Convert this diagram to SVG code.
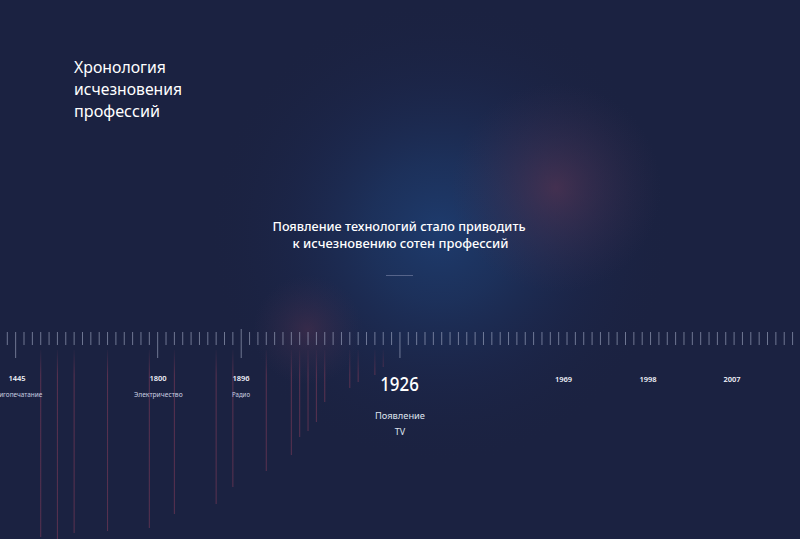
<svg xmlns="http://www.w3.org/2000/svg" width="800" height="539" viewBox="0 0 800 539">
<style>
text{font-family:"Noto Sans","Liberation Sans",sans-serif;fill:#ffffff}
.title{font-size:17px;font-weight:400}
.lead{font-size:13px;font-weight:500;text-anchor:middle}
.year{font-size:7.5px;font-weight:600;text-anchor:middle;fill:#f2f4fa}
.sub{font-size:6.5px;text-anchor:middle;fill:#c9cfe0}
.big{font-size:19px;font-weight:500;text-anchor:middle}
.ev{font-size:9px;text-anchor:middle;fill:#dfe3ee}
.tick{stroke:#c3cbe3;stroke-opacity:.5;stroke-width:1;fill:none}
.red{stroke:url(#redfade);stroke-width:1;fill:none}
</style>
<defs>
<radialGradient id="gBlue" cx="440" cy="232" r="235" gradientUnits="userSpaceOnUse">
<stop offset="0" stop-color="#1f4680" stop-opacity=".7"/>
<stop offset=".3" stop-color="#1e3f74" stop-opacity=".5"/>
<stop offset=".65" stop-color="#1d3060" stop-opacity=".2"/>
<stop offset="1" stop-color="#1b2241" stop-opacity="0"/>
</radialGradient>
<radialGradient id="gRed" cx="556" cy="188" r="105" gradientUnits="userSpaceOnUse">
<stop offset="0" stop-color="#5e3653" stop-opacity=".6"/>
<stop offset=".45" stop-color="#4a3352" stop-opacity=".35"/>
<stop offset="1" stop-color="#3a2f50" stop-opacity="0"/>
</radialGradient>
<radialGradient id="gRed2" cx="308" cy="330" r="55" gradientUnits="userSpaceOnUse">
<stop offset="0" stop-color="#52314e" stop-opacity=".5"/>
<stop offset="1" stop-color="#3a2f50" stop-opacity="0"/>
</radialGradient>
<linearGradient id="redfade" x1="0" y1="347" x2="0" y2="375" gradientUnits="userSpaceOnUse">
<stop offset="0" stop-color="#6e3654" stop-opacity="0"/>
<stop offset="1" stop-color="#6e3654" stop-opacity=".75"/>
</linearGradient>
</defs>

<g id="background">
<rect width="800" height="539" fill="#1b2241"/>
<rect width="800" height="539" fill="url(#gBlue)"/>
<rect width="800" height="539" fill="url(#gRed)"/>
<rect width="800" height="539" fill="url(#gRed2)"/>
</g>

<g id="title">
<text class="title" x="74" y="73" textLength="92" lengthAdjust="spacingAndGlyphs">Хронология</text>
<text class="title" x="74" y="95" textLength="108" lengthAdjust="spacingAndGlyphs">исчезновения</text>
<text class="title" x="74" y="117" textLength="86" lengthAdjust="spacingAndGlyphs">профессий</text>
</g>

<g id="lead">
<text class="lead" x="399" y="230.5" textLength="253" lengthAdjust="spacingAndGlyphs">Появление технологий стало приводить</text>
<text class="lead" x="400.5" y="247.5" textLength="216" lengthAdjust="spacingAndGlyphs">к исчезновению сотен профессий</text>
<line x1="386" y1="275.5" x2="413" y2="275.5" stroke="#56648a" stroke-width="1"/>
</g>

<g id="ruler">
<path class="tick" d="M7.3 332v13M24.01 332v13M32.36 332v13M40.72 332v13M49.07 332v13M57.42 332v13M65.78 332v13M74.13 332v13M82.49 332v13M90.84 332v13M99.19 332v13M107.55 332v13M115.9 332v13M124.26 332v13M132.61 332v13M140.96 332v13M149.32 332v13M166.03 332v13M174.38 332v13M182.73 332v13M191.09 332v13M199.44 332v13M207.8 332v13M216.15 332v13M224.5 332v13M232.86 332v13M249.57 332v13M257.92 332v13M266.27 332v13M274.63 332v13M282.98 332v13M291.34 332v13M299.69 332v13M308.04 332v13M316.4 332v13M324.75 332v13M333.11 332v13M341.46 332v13M349.81 332v13M358.17 332v13M366.52 332v13M374.88 332v13M383.23 332v13M391.58 332v13M408.29 332v13M416.65 332v13M425 332v13M433.35 332v13M441.71 332v13M450.06 332v13M458.42 332v13M466.77 332v13M475.12 332v13M483.48 332v13M491.83 332v13M500.19 332v13M508.54 332v13M516.89 332v13M525.25 332v13M533.6 332v13M541.96 332v13M550.31 332v13M558.66 332v13M567.02 332v13M575.37 332v13M583.73 332v13M592.08 332v13M600.43 332v13M608.79 332v13M617.14 332v13M625.5 332v13M633.85 332v13M642.2 332v13M650.56 332v13M658.91 332v13M667.27 332v13M675.62 332v13M683.97 332v13M692.33 332v13M700.68 332v13M709.04 332v13M717.39 332v13M725.74 332v13M734.1 332v13M742.45 332v13M750.81 332v13M759.16 332v13M767.51 332v13M775.87 332v13M784.22 332v13M792.58 332v13"/>
<path class="tick" d="M15.65 332v26M157.67 332v26M241.21 329v29M399.94 332v26"/>
</g>

<g id="fading-lines">
<path class="red" d="M40.72 350V537M57.42 350V539M74.13 350V533M107.55 350V531M149.32 350V528M174.38 350V514M216.15 350V504M232.86 350V487M266.27 350V471M291.34 350V455M299.69 350V437M308.04 350V431M316.4 350V422M324.75 350V402M349.81 350V388M358.17 350V382M374.88 350V375M383.23 350V367"/>
</g>

<g id="m1445">
<text class="year" x="17" y="381">1445</text>
<text class="sub" x="16.7" y="397" textLength="51" lengthAdjust="spacingAndGlyphs">Книгопечатание</text>
</g>
<g id="m1800">
<text class="year" x="158" y="381">1800</text>
<text class="sub" x="158.3" y="397" textLength="48.7" lengthAdjust="spacingAndGlyphs">Электричество</text>
</g>
<g id="m1896">
<text class="year" x="241" y="381">1896</text>
<text class="sub" x="241" y="397" textLength="18" lengthAdjust="spacingAndGlyphs">Радио</text>
</g>
<g id="m1926">
<text class="big" x="399.5" y="391" textLength="38.6" lengthAdjust="spacingAndGlyphs">1926</text>
<text class="ev" x="400" y="419" textLength="50" lengthAdjust="spacingAndGlyphs">Появление</text>
<text class="ev" x="400" y="435">TV</text>
</g>
<g id="m1969"><text class="year" x="563.5" y="382">1969</text></g>
<g id="m1998"><text class="year" x="648" y="382">1998</text></g>
<g id="m2007"><text class="year" x="732" y="382">2007</text></g>
</svg>
